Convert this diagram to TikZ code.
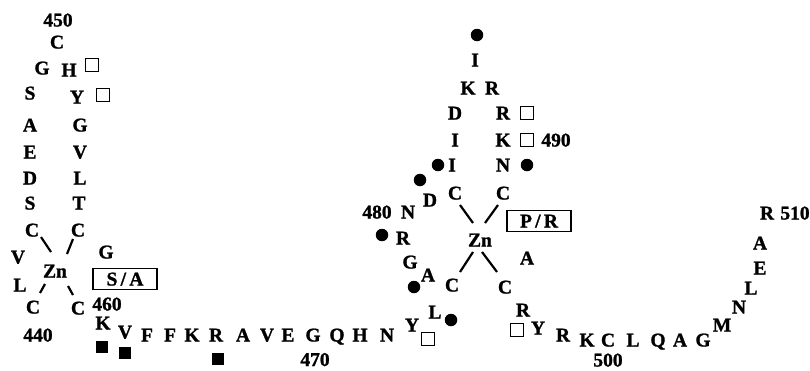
\documentclass[tikz,border=0pt]{standalone}
\usepackage{fontspec}
\setmainfont{Liberation Serif}
\newfontfamily\resfont{Liberation Serif Bold}[FakeBold=1.2]
\begin{document}
\begin{tikzpicture}[x=1pt,y=-1pt,
  aa/.style={font=\resfont\fontsize{19.5}{19.5}\selectfont, inner sep=0pt, text height=13pt, text depth=0pt},
  num/.style={aa},
  osq/.style={draw, line width=1.6pt, minimum size=13pt, inner sep=0pt},
  fsq/.style={fill, minimum size=12.5pt, inner sep=0pt},
  dot/.style={circle, fill, minimum size=12.5pt, inner sep=0pt},
  mut/.style={aa, draw, line width=1.5pt, minimum width=64pt, minimum height=21pt, text height=13pt},
  bond/.style={line width=2.2pt}]
\useasboundingbox (0,0) rectangle (810,370);

% ---------- first zinc knuckle (440-460) ----------
\node[num] (n450) at (58,20) {450};
\node[aa] (c450) at (57,42) {C};
\node[aa] (g449) at (42,68) {G};
\node[aa] (h451) at (69,70) {H};
\node[osq] (sqh451) at (92,65) {};
\node[aa] (s448) at (30,93) {S};
\node[aa] (y452) at (77,97) {Y};
\node[osq] (sqy452) at (103,95) {};
\node[aa] (a447) at (30,125) {A};
\node[aa] (g453) at (80,125) {G};
\node[aa] (e446) at (30,152) {E};
\node[aa] (v454) at (80,152) {V};
\node[aa] (d445) at (30,178) {D};
\node[aa] (l455) at (80,178) {L};
\node[aa] (s444) at (30,203) {S};
\node[aa] (t456) at (79,203) {T};
\node[aa] (c443) at (32,230) {C};
\node[aa] (c457) at (78,230) {C};
\node[aa] (g458) at (106,252) {G};
\node[aa] (v442) at (18,257) {V};
\node[aa] (zn1) at (55,271) {Zn};
\node[aa] (l441) at (20,285) {L};
\node[mut] (mutsa) at (125,279) {S\,/\,A};
\node[aa] (c440) at (33,307) {C};
\node[aa] (c460) at (78,308) {C};
\node[num] (n460) at (107,304) {460};
\node[num] (n440) at (38,335) {440};

\coordinate (b1a) at (41,237); \coordinate (b1b) at (51,252);
\coordinate (b2a) at (73,239); \coordinate (b2b) at (67,254);
\coordinate (b3a) at (45,284); \coordinate (b3b) at (40,293);
\coordinate (b4a) at (68,286); \coordinate (b4b) at (73,295);
\draw[bond] (b1a) -- (b1b);
\draw[bond] (b2a) -- (b2b);
\draw[bond] (b3a) -- (b3b);
\draw[bond] (b4a) -- (b4b);

% ---------- linker (461-474) ----------
\node[aa] (k461) at (103,323) {K};
\node[aa] (v462) at (125,332) {V};
\node[aa] (f463) at (147,335) {F};
\node[aa] (f464) at (170,335) {F};
\node[aa] (k465) at (192,335) {K};
\node[aa] (r466) at (216,335) {R};
\node[aa] (a467) at (243,335) {A};
\node[aa] (v468) at (267,335) {V};
\node[aa] (e469) at (288,335) {E};
\node[aa] (g470) at (313,335) {G};
\node[aa] (q471) at (337,335) {Q};
\node[aa] (h472) at (360,335) {H};
\node[aa] (n473) at (387,335) {N};
\node[num] (n470) at (315,359.5) {470};
\node[fsq] (sqk461) at (102,347) {};
\node[fsq] (sqv462) at (125,353) {};
\node[fsq] (sqr466) at (218,359) {};

% ---------- second zinc knuckle (474-497) ----------
\node[aa] (y474) at (412,325) {Y};
\node[osq] (sqy474) at (428,339) {};
\node[aa] (l475) at (435,312) {L};
\node[dot] (dl475) at (451,320) {};
\node[aa] (c476) at (452,285) {C};
\node[aa] (a477) at (428,275) {A};
\node[dot] (da477) at (414,287) {};
\node[aa] (g478) at (410,262) {G};
\node[aa] (r479) at (403,238) {R};
\node[dot] (dr479) at (382,235) {};
\node[aa] (n480) at (408,212) {N};
\node[num] (n480l) at (377,212) {480};
\node[aa] (d481) at (430,200) {D};
\node[dot] (dd481) at (420,180) {};
\node[aa] (c482) at (455,193) {C};
\node[aa] (i483) at (452,165) {I};
\node[dot] (di483) at (438,165) {};
\node[aa] (i484) at (455,140) {I};
\node[aa] (d485) at (455,113) {D};
\node[aa] (k486) at (468,88) {K};
\node[aa] (i487) at (475,60) {I};
\node[dot] (di487) at (477,35) {};
\node[aa] (r488) at (492,88) {R};
\node[aa] (r489) at (503,113) {R};
\node[osq] (sqr489) at (527,113) {};
\node[aa] (k490) at (503,140) {K};
\node[osq] (sqk490) at (527,140) {};
\node[num] (n490) at (556,140) {490};
\node[aa] (n491) at (503,165) {N};
\node[dot] (dn491) at (527,165) {};
\node[aa] (c492) at (503,193) {C};
\node[mut] (mutpr) at (539,221) {P\,/\,R};
\node[aa] (zn2) at (480,240) {Zn};
\node[aa] (a494) at (527,258) {A};
\node[aa] (c495) at (505,287) {C};
\node[aa] (r496) at (523,310) {R};
\node[osq] (sqr496) at (517,330) {};

\coordinate (b5a) at (460,205); \coordinate (b5b) at (473,223);
\coordinate (b6a) at (498,205); \coordinate (b6b) at (485,223);
\coordinate (b7a) at (473,252); \coordinate (b7b) at (460,272);
\coordinate (b8a) at (482,252); \coordinate (b8b) at (497,272);
\draw[bond] (b5a) -- (b5b);
\draw[bond] (b6a) -- (b6b);
\draw[bond] (b7a) -- (b7b);
\draw[bond] (b8a) -- (b8b);

% ---------- C-terminal tail (497-510) ----------
\node[aa] (y497) at (538,328) {Y};
\node[aa] (r498) at (563,335) {R};
\node[aa] (k499) at (587,340) {K};
\node[aa] (c500) at (608,340) {C};
\node[aa] (l501) at (633,340) {L};
\node[aa] (q502) at (658,340) {Q};
\node[aa] (a503) at (680,340) {A};
\node[aa] (g504) at (703,340) {G};
\node[num] (n500) at (608,360) {500};
\node[aa] (m505) at (722,325) {M};
\node[aa] (n506) at (739,307) {N};
\node[aa] (l507) at (751,288) {L};
\node[aa] (e508) at (760,268) {E};
\node[aa] (a509) at (760,243) {A};
\node[aa] (r510) at (767,213) {R};
\node[num] (n510) at (795,213) {510};
\end{tikzpicture}
\end{document}
